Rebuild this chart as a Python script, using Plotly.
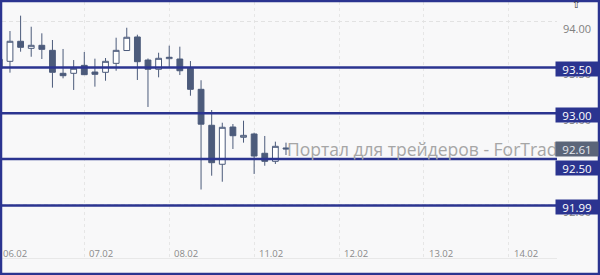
import plotly.graph_objects as go

# ---- data (3-hour candles) ----
day_labels = ["06.02", "07.02", "08.02", "11.02", "12.02", "13.02", "14.02"]
candles_per_day = 8

opens  = [93.491, 93.567, 93.786, 93.709, 93.742, 93.687, 93.436, 93.436,
          93.523, 93.450, 93.447, 93.545, 93.685, 93.833, 93.581, 93.480,
          93.596, 93.592, 93.491, 93.261, 92.868, 92.442, 92.849, 92.737,
          92.773, 92.562, 92.474, 92.620]
highs  = [93.620, 93.898, 94.066, 93.945, 93.873, 93.800, 93.702, 93.581,
          93.669, 93.596, 93.603, 93.825, 93.934, 93.858, 93.598, 93.661,
          93.738, 93.727, 93.570, 93.360, 93.035, 92.896, 92.882, 92.918,
          92.787, 92.751, 92.689, 92.678]
lows   = [93.460, 93.443, 93.672, 93.617, 93.592, 93.279, 93.381, 93.254,
          93.417, 93.290, 93.355, 93.464, 93.680, 93.363, 93.068, 93.392,
          93.494, 93.417, 93.191, 92.166, 92.317, 92.251, 92.609, 92.678,
          92.336, 92.426, 92.445, 92.543]
closes = [93.589, 93.786, 93.720, 93.742, 93.698, 93.447, 93.410, 93.491,
          93.421, 93.425, 93.567, 93.687, 93.830, 93.563, 93.480, 93.600,
          93.611, 93.464, 93.261, 92.880, 92.459, 92.846, 92.754, 92.758,
          92.532, 92.474, 92.638, 92.610]

level_lines = [93.50, 93.00, 92.50, 91.99]
price_ticks = [92.00, 92.50, 93.00, 93.50, 94.00]
last_price = closes[-1]
watermark = "Портал для трейдеров - ForTrader.ru"

# ---- style ----
NAVY = "#2b3490"
CANDLE = "#4c5b7b"
BG = "#f8f8f9"
FONT = "Open Sans"

x_idx = list(range(len(opens)))
day_ticks = [i * candles_per_day for i in range(len(day_labels))]
XR = [0.248, 52.53]
YR = [91.4175, 94.2153]

fig = go.Figure()
fig.add_trace(go.Candlestick(
    x=x_idx, open=opens, high=highs, low=lows, close=closes,
    increasing=dict(line=dict(color=CANDLE, width=1), fillcolor="#ffffff"),
    decreasing=dict(line=dict(color=CANDLE, width=1), fillcolor=CANDLE),
    whiskerwidth=0, hoverinfo="skip", showlegend=False,
))

W, H = 600, 275
L, R, T, B = 2, 43, 2, 17
pw, ph = W - L - R, H - T - B
def px2paper_x(px):
    return (px - L) / pw
def py2paper_y(py):
    return (H - B - py) / ph

shapes = []
for lv in level_lines:
    shapes.append(dict(type="line", xref="paper", x0=0, x1=1, yref="y", y0=lv, y1=lv,
                       line=dict(color=NAVY, width=2.5), layer="above"))
# outer frame
shapes.append(dict(type="rect", xref="paper", yref="paper",
                   x0=px2paper_x(1), x1=px2paper_x(599), y0=py2paper_y(274), y1=py2paper_y(1),
                   line=dict(color=NAVY, width=2.5), fillcolor="rgba(0,0,0,0)", layer="above"))

annotations = []
# watermark
annotations.append(dict(text=watermark, xref="paper", yref="paper",
                        x=px2paper_x(285), y=py2paper_y(149), xanchor="left", yanchor="middle",
                        showarrow=False, font=dict(family=FONT, size=17.5, color="#a6a6a6")))
# x day labels (placed along the x axis scale, allowed to sit at the clipped left edge)
for lab, t in zip(day_labels, day_ticks):
    xp = (t - XR[0]) / (XR[1] - XR[0])
    annotations.append(dict(text=lab, xref="paper", yref="paper", x=max(xp, px2paper_x(1)),
                            y=py2paper_y(253), xanchor="left", yanchor="middle",
                            xshift=(3 if xp > 0 else 0), showarrow=False,
                            font=dict(family=FONT, size=9.5, color="#8a8a8a")))
# price badges
for lv in level_lines:
    ys = -1.5 if lv != 92.50 else -9
    annotations.append(dict(text=f"{lv:.2f}", xref="paper", yref="y", x=1, y=lv,
                            xanchor="left", yanchor="middle", xshift=-2, yshift=ys,
                            showarrow=False, bgcolor=NAVY, width=42, height=14, borderpad=0,
                            align="center", font=dict(family=FONT, size=11.5, color="#ffffff")))
annotations.append(dict(text=f"{last_price:.2f}", xref="paper", yref="y", x=1, y=last_price,
                        xanchor="left", yanchor="middle", xshift=-2, yshift=0,
                        showarrow=False, bgcolor="#5b6579", width=42, height=14, borderpad=0,
                        align="center", font=dict(family=FONT, size=11.5, color="#e6e8ee")))
# cursor glyph
annotations.append(dict(text="⇧", xref="paper", yref="paper", x=px2paper_x(576), y=py2paper_y(4),
                        xanchor="center", yanchor="middle", showarrow=False,
                        font=dict(family="DejaVu Sans", size=10, color="#333333")))

fig.update_layout(
    width=W, height=H,
    margin=dict(l=L, r=R, t=T, b=B),
    paper_bgcolor=BG, plot_bgcolor=BG,
    boxgap=0.22,
    shapes=shapes, annotations=annotations,
    showlegend=False,
    xaxis=dict(range=XR, tickvals=day_ticks, showticklabels=False,
               showgrid=True, gridcolor="#e6e6e6", griddash="dot", gridwidth=1,
               zeroline=False, showline=True, linecolor="#e8e8e8", linewidth=1,
               rangeslider=dict(visible=False), fixedrange=True),
    yaxis=dict(range=YR, side="right", tickvals=price_ticks,
               ticktext=[f"{v:.2f}" for v in price_ticks],
               tickfont=dict(family=FONT, size=11, color="#808080"),
               ticks="", ticklabelshift=7, ticklabelstandoff=5,
               showgrid=True, gridcolor="#e2e2e2", griddash="4px,3px", gridwidth=1,
               zeroline=False, showline=False, fixedrange=True),
)

fig.write_html("out.html")
